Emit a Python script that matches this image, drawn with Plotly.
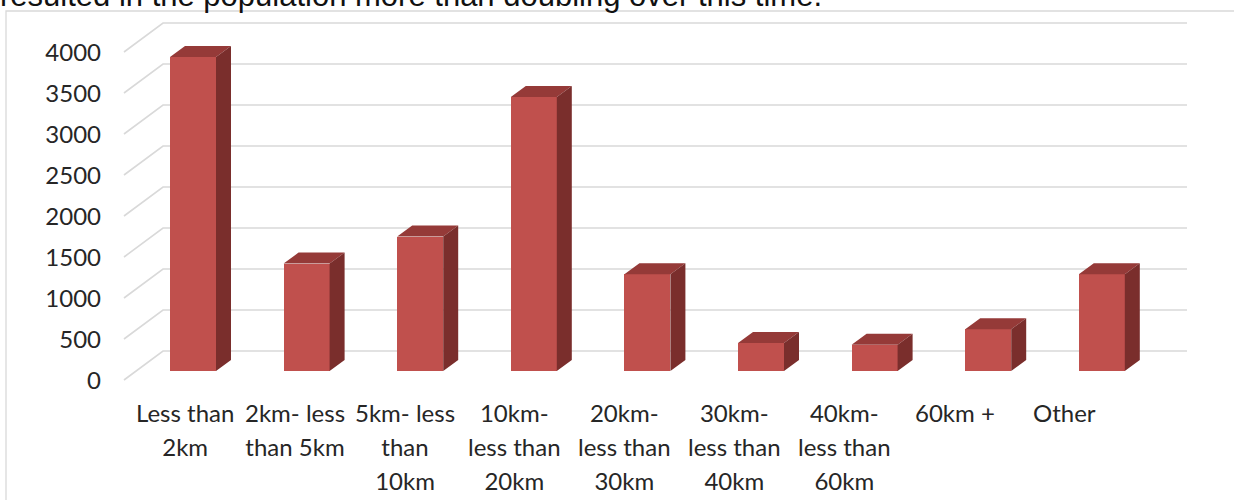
import plotly.graph_objects as go

# ---------------- data ----------------
CATEGORY_LINES = [
    ["Less than", "2km"],
    ["2km- less", "than 5km"],
    ["5km- less", "than", "10km"],
    ["10km-", "less than", "20km"],
    ["20km-", "less than", "30km"],
    ["30km-", "less than", "40km"],
    ["40km-", "less than", "60km"],
    ["60km +"],
    ["Other"],
]
VALUES = [3830, 1310, 1640, 3340, 1180, 340, 320, 510, 1180]
Y_TICKS = [0, 500, 1000, 1500, 2000, 2500, 3000, 3500, 4000]
HEADER = "resulted in the population more than doubling over this time."

# ---------------- geometry (pixels of the 1234x500 page) ----------------
W, H = 1234, 500
PLOT_L, PLOT_R, PLOT_T, PLOT_B = 112, 1234, 0, 395
PX_PER_CAT = 113.6          # distance between bars
PX_PER_UNIT = 0.082         # vertical pixels per value unit
X0_PX, Y0_PX = 193, 371     # first bar centre / bar floor (bar plane)
BAR_W = 0.405               # in category units
BAR_DX_PX, BAR_DY_PX = 15, 11       # bar depth
FRONT_DX_PX, FRONT_DY_PX = -12, 9   # bar plane -> front edge of floor
BACK_DX_PX, BACK_DY_PX = 27, -20    # bar plane -> back wall
WALL_LEFT_PX, WALL_RIGHT_PX = 136, 1187
LBL_X0_PX, LBL_PX_PER_CAT = 184.5, 110.0   # category label centres (front plane)
LBL_TOP_PX = 396

def xd(px):
    return (px - X0_PX) / PX_PER_CAT

def dv(dy_px):
    return -dy_px / PX_PER_UNIT

def py_paper(px):
    return (PLOT_B - px) / (PLOT_B - PLOT_T)

def px_paper(px):
    return (px - PLOT_L) / (PLOT_R - PLOT_L)

x_range = [xd(PLOT_L), xd(PLOT_R)]
y_range = [(Y0_PX - PLOT_B) / PX_PER_UNIT, (Y0_PX - PLOT_T) / PX_PER_UNIT]

GRID = "#D9D9D9"
FRONT = "#C0504D"
TOP = "#953A38"
SIDE = "#7A2E2C"
TEXT = "#262626"
FONT = "Lato"

fig = go.Figure()

# gridlines (below traces): slanted floor edge + back wall
shapes = []
for v in Y_TICKS:
    pts = [(xd(WALL_LEFT_PX + FRONT_DX_PX), v + dv(FRONT_DY_PX)),
           (xd(WALL_LEFT_PX + BACK_DX_PX), v + dv(BACK_DY_PX)),
           (xd(WALL_RIGHT_PX), v + dv(BACK_DY_PX))]
    path = "M " + " L ".join(f"{a},{b}" for a, b in pts)
    shapes.append(dict(type="path", path=path, xref="x", yref="y", layer="below",
                       line=dict(color=GRID, width=1.6)))

# chart border
shapes.append(dict(type="rect", xref="paper", yref="paper", layer="below",
                   x0=px_paper(6), x1=px_paper(W + 20),
                   y0=py_paper(H + 20), y1=py_paper(11),
                   line=dict(color=GRID, width=1.3)))

# front faces
fig.add_trace(go.Bar(x=list(range(len(VALUES))), y=VALUES, width=BAR_W,
                     marker=dict(color=FRONT, line=dict(width=0)), showlegend=False,
                     hoverinfo="skip"))

# 3D faces
ddx = BAR_DX_PX / PX_PER_CAT
ddy = dv(-BAR_DY_PX)
tx, ty, sx, sy = [], [], [], []
for i, v in enumerate(VALUES):
    l, r = i - BAR_W / 2, i + BAR_W / 2
    tx += [l, r, r + ddx, l + ddx, l, None]
    ty += [v, v, v + ddy, v + ddy, v, None]
    sx += [r, r, r + ddx, r + ddx, r, None]
    sy += [0, v, v + ddy, ddy, 0, None]
fig.add_trace(go.Scatter(x=tx, y=ty, mode="lines", fill="toself", fillcolor=TOP,
                         line=dict(width=0, color=TOP), hoverinfo="skip", showlegend=False))
fig.add_trace(go.Scatter(x=sx, y=sy, mode="lines", fill="toself", fillcolor=SIDE,
                         line=dict(width=0, color=SIDE), hoverinfo="skip", showlegend=False))

# category labels
annotations = []
for i, lines in enumerate(CATEGORY_LINES):
    txt = "<br>".join(f'<span style="font-size:24px">{s}</span>' for s in lines)
    annotations.append(dict(text=txt, xref="x", yref="paper", showarrow=False,
                            x=xd(LBL_X0_PX + LBL_PX_PER_CAT * i), xanchor="center",
                            y=py_paper(LBL_TOP_PX), yanchor="top", align="center",
                            font=dict(family=FONT, size=26, color=TEXT)))

# header text cut by the top edge
annotations.append(dict(text=HEADER, xref="paper", yref="paper", showarrow=False,
                        x=px_paper(-2), xanchor="left",
                        y=py_paper(15), yanchor="bottom",
                        font=dict(family="Liberation Sans", size=31, color="#111111")))

fig.update_layout(
    width=W, height=H,
    margin=dict(l=PLOT_L, r=W - PLOT_R, t=PLOT_T, b=H - PLOT_B),
    paper_bgcolor="white", plot_bgcolor="white",
    font=dict(family=FONT, color=TEXT),
    bargap=0,
    xaxis=dict(range=x_range, visible=False, fixedrange=True),
    yaxis=dict(range=y_range, tickmode="array", tickvals=Y_TICKS,
               tickfont=dict(family=FONT, size=24, color=TEXT),
               showgrid=False, zeroline=False, showline=False, ticks="",
               ticklabelshift=10, ticklabelstandoff=10, fixedrange=True),
    shapes=shapes,
    annotations=annotations,
)

fig.write_html("out.html")
